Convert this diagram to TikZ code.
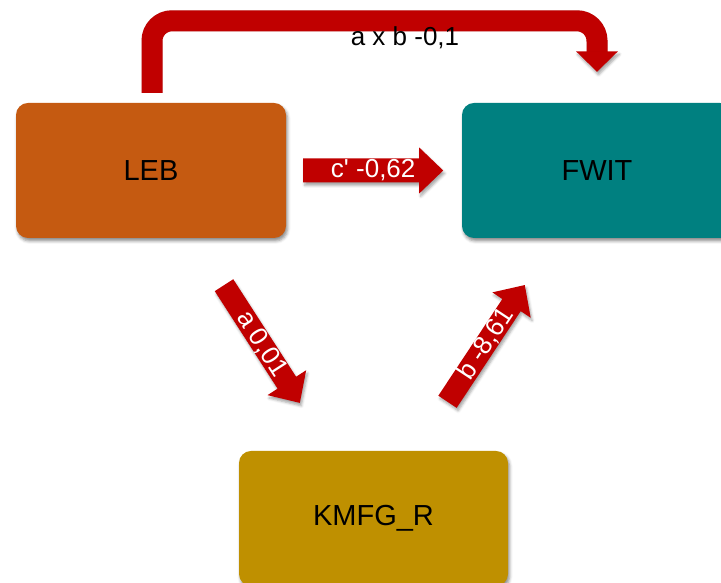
\documentclass[tikz,border=0pt]{standalone}
\usepackage{fontspec}
\setmainfont{Liberation Sans}[Ligatures=TeXOff]
\usetikzlibrary{shadows.blur,calc}
\definecolor{lebc}{HTML}{C55A11}
\definecolor{fwitc}{HTML}{008080}
\definecolor{kmfgc}{HTML}{BF9000}
\definecolor{arrowred}{HTML}{C00000}
\newcommand\blockarr[5]{%
  \begin{scope}[shift={#2}, rotate=#3]
    \fill[arrowred, arrowshadow] (0,-#5) -- (116,-#5) -- (116,-23) -- (140,0) -- (116,23) -- (116,#5) -- (0,#5) -- cycle;
    \node[arrowlabel, transform shape] (#1) at (70,0) {#4};
  \end{scope}}
\begin{document}
\begin{tikzpicture}[x=1pt,y=1pt,
  box/.style={rounded corners=12pt, minimum width=270pt, minimum height=135pt,
    inner sep=0pt, font=\fontsize{29}{34}\selectfont, text=black,
    blur shadow={shadow xshift=1.5pt, shadow yshift=-3pt, shadow blur radius=3pt, shadow opacity=45}},
  arrowshadow/.style={blur shadow={shadow xshift=1.5pt, shadow yshift=-3pt, shadow blur radius=2.5pt, shadow opacity=35}},
  arrowlabel/.style={font=\fontsize{26}{30}\selectfont, text=white, inner sep=0pt},
  toplabel/.style={font=\fontsize{26}{30}\selectfont, text=black, inner sep=0pt}]
\useasboundingbox (0,0) rectangle (721,583);
\clip (0,0) rectangle (721,583);

\node[box, fill=lebc] (leb) at (151,412.5) {LEB};
\node[box, fill=fwitc] (fwit) at (597,412.5) {FWIT};
\node[box, fill=kmfgc, minimum width=269pt] (kmfg) at (373.5,64.5) {KMFG\_R};

% top bent arrow
\coordinate (t0) at ($(leb.north)+(1,10)$);
\coordinate (t1) at ($(fwit.north)+(0,82)$);
\coordinate (t2) at ($(fwit.north)+(0,51)$);
\draw[black, opacity=0.15, line width=21pt, rounded corners=20pt, shift={(1.5,-3)}] (t0) |- (t1) -- (t2);
\draw[arrowred, line width=21pt, rounded corners=20pt] (t0) |- (t1) -- (t2);
\fill[arrowred, arrowshadow] ($(t2)+(-21,0.5)$) -- ($(t2)+(21,0.5)$) -- ($(t2)+(0,-20)$) -- cycle;
\node[toplabel] (tl) at (405,545) {a x b -0,1};

% straight block arrows
\blockarr{cl}{($(leb.east)+(17,0)$)}{0}{c' -0,62}{12}
\blockarr{al}{($(leb.south)+(73,-47)$)}{-57.2}{a 0,01}{11}
\blockarr{bl}{($(kmfg.north)+(74,49)$)}{56.5}{b -8,61}{11}
\end{tikzpicture}
\end{document}
